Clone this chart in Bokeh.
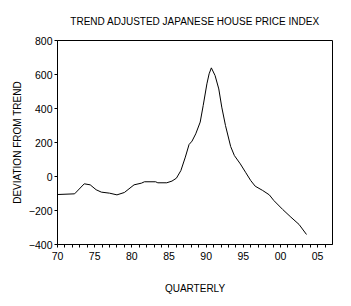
from bokeh.plotting import figure
from bokeh.models import FixedTicker
from bokeh.embed import file_html
from bokeh.resources import INLINE

# data (decimal year, deviation from trend)
years = [1970.0, 1972.3, 1973.6, 1974.4, 1975.2, 1975.9, 1977.0, 1978.0, 1979.0,
         1980.3, 1981.3, 1981.7, 1983.2, 1983.5, 1984.7, 1985.4, 1986.0, 1986.6,
         1987.2, 1987.7, 1988.1, 1988.6, 1989.2, 1989.6, 1990.1, 1990.4, 1990.7,
         1991.2, 1991.7, 1992.1, 1992.6, 1993.3, 1993.8, 1994.6, 1995.3, 1996.0,
         1996.6, 1997.6, 1998.5, 1999.1, 2000.3, 2001.4, 2002.5, 2003.5]
deviation = [-106, -102, -43, -49, -78, -92, -98, -108, -94,
             -49, -39, -31, -31, -37, -37, -27, -10, 35,
             114, 188, 208, 251, 320, 417, 545, 604, 639,
             594, 515, 408, 300, 176, 123, 74, 25, -24,
             -57, -82, -108, -141, -194, -239, -282, -341]

x_ticks = [1970, 1975, 1980, 1985, 1990, 1995, 2000, 2005]
x_tick_labels = ["70", "75", "80", "85", "90", "95", "00", "05"]
x_minor = [y for y in range(1971, 2007) if y not in x_ticks]
y_ticks = [-400, -200, 0, 200, 400, 600, 800]

FONT = "Liberation Sans"
FS = "10px"

p = figure(width=351, height=306, x_range=(1970, 2007), y_range=(-400, 800),
           output_backend="svg", toolbar_location=None,
           min_border_left=57, min_border_right=19, min_border_top=40, min_border_bottom=62,
           title="TREND ADJUSTED JAPANESE HOUSE PRICE INDEX")
p.title.align = "center"
p.title.text_font = FONT
p.title.text_font_size = FS
p.title.text_font_style = "normal"
p.title.text_color = "black"
p.title.standoff = 27

p.line(years, deviation, line_color="black", line_width=1)

p.xgrid.visible = False
p.ygrid.visible = False
p.outline_line_color = "black"
p.outline_line_width = 1
p.background_fill_color = "white"
p.border_fill_color = "white"

p.xaxis.ticker = FixedTicker(ticks=x_ticks, minor_ticks=x_minor)
p.xaxis.major_label_overrides = {t: l for t, l in zip(x_ticks, x_tick_labels)}
p.yaxis.ticker = FixedTicker(ticks=y_ticks)

for ax in (p.xaxis[0], p.yaxis[0]):
    ax.axis_line_color = "black"
    ax.major_tick_line_color = "black"
    ax.minor_tick_line_color = "black"
    ax.major_tick_out = 3
    ax.major_tick_in = 0
    ax.minor_tick_out = 3
    ax.minor_tick_in = 0
    ax.major_label_text_font = FONT
    ax.major_label_text_font_size = "10.5px"
    ax.major_label_text_color = "black"
    ax.axis_label_text_font = FONT
    ax.axis_label_text_font_size = FS
    ax.axis_label_text_font_style = "normal"
    ax.axis_label_text_color = "black"

p.yaxis.minor_tick_line_color = None
p.xaxis.axis_label = "QUARTERLY"
p.yaxis.axis_label = "DEVIATION FROM TREND"
p.xaxis.major_label_standoff = 4
p.xaxis.axis_label_standoff = 20
p.yaxis.major_label_standoff = 2
p.yaxis.axis_label_standoff = 3

open("out.html", "w").write(file_html(p, INLINE))
